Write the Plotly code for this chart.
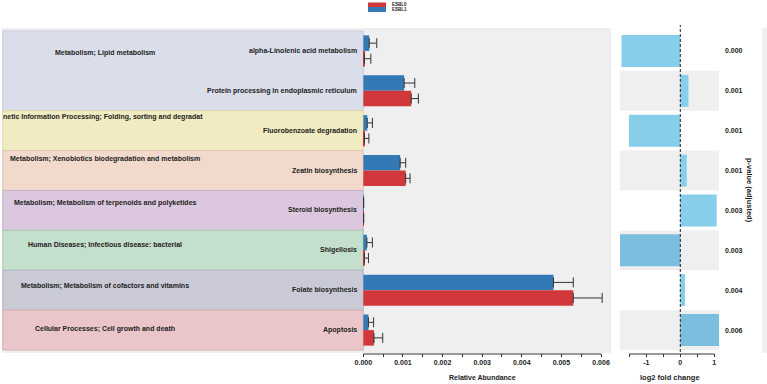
import plotly.graph_objects as go

# ---------------- data ----------------
pathways = [
    "alpha-Linolenic acid metabolism",
    "Protein processing in endoplasmic reticulum",
    "Fluorobenzoate degradation",
    "Zeatin biosynthesis",
    "Steroid biosynthesis",
    "Shigellosis",
    "Folate biosynthesis",
    "Apoptosis",
]
esbl1_mean = [0.00015, 0.00103, 0.00010, 0.00093, 0.000008, 0.00009, 0.00480, 0.00013]
esbl1_err = [0.00019, 0.00027, 0.00013, 0.00014, 0.0, 0.00014, 0.00050, 0.00013]
esbl0_mean = [0.00003, 0.00121, 0.00003, 0.00107, 0.000008, 0.00003, 0.00530, 0.00027]
esbl0_err = [0.00016, 0.00018, 0.00011, 0.00011, 0.0, 0.00010, 0.00073, 0.00022]
log2fc = [-1.73, 0.24, -1.51, 0.19, 1.07, -1.80, 0.14, 1.20]
pvalues = ["0.000", "0.001", "0.001", "0.001", "0.003", "0.003", "0.004", "0.006"]
categories = [
    "Metabolism; Lipid metabolism",
    "netic Information Processing; Folding, sorting and degradat",
    "Metabolism; Xenobiotics biodegradation and metabolism",
    "Metabolism; Metabolism of terpenoids and polyketides",
    "Human Diseases; Infectious disease: bacterial",
    "Metabolism; Metabolism of cofactors and vitamins",
    "Cellular Processes; Cell growth and death",
]
category_first_row = [0, 2, 3, 4, 5, 6, 7]
category_last_row = [1, 2, 3, 4, 5, 6, 7]
abund_ticks = [0.0, 0.001, 0.002, 0.003, 0.004, 0.005, 0.006]
fc_ticks = [-1, 0, 1]

# ---------------- styles / layout helpers ----------------
W, H = 767, 384
FONT = "Liberation Sans, Arial, sans-serif"
cat_fill = ["#DADEEA", "#F0EBC0", "#F1DACC", "#DCC8DE", "#C5DFCD", "#CACAD7", "#EAC6CA"]
cat_line = ["#C9CCDA", "#E2DAA8", "#E3C4B4", "#C8B0CC", "#A9C9B3", "#B6B6C6", "#D9AEB3"]
cat_label_y = [0.05, 1.655, 2.71, 3.81, 4.86, 5.89, 6.97]
fc_colors = ["#87CEEB", "#87CEEB", "#87CEEB", "#87CEEB", "#87CEEB", "#7BBFDE", "#87CEEB", "#7BBFDE"]
BLUE = "#3379B5"
RED = "#D1383B"

def px(xp):
    return xp / W

def py(yp):
    return (H - yp) / H

x_left, x_right = -0.00912, 0.006252
fc_left, fc_right = -1.774, 1.138
y_range = [7.575, -0.575]

fig = go.Figure()

fig.add_trace(go.Bar(
    name="ESBL1", y=pathways, x=esbl1_mean, orientation="h",
    marker=dict(color=BLUE, line=dict(width=0)),
    error_x=dict(type="data", array=esbl1_err, arrayminus=[0] * len(pathways),
                 symmetric=False, color="#333333", thickness=1, width=5),
    xaxis="x", yaxis="y", showlegend=False,
))
fig.add_trace(go.Bar(
    name="ESBL0", y=pathways, x=esbl0_mean, orientation="h",
    marker=dict(color=RED, line=dict(width=0)),
    error_x=dict(type="data", array=esbl0_err, arrayminus=[0] * len(pathways),
                 symmetric=False, color="#333333", thickness=1, width=5),
    xaxis="x", yaxis="y", showlegend=False,
))
fig.add_trace(go.Bar(
    name="log2FC", y=pathways, x=log2fc, orientation="h", width=0.8,
    marker=dict(color=fc_colors, line=dict(width=0)),
    xaxis="x2", yaxis="y", showlegend=False,
))

shapes = []
# main panel background
shapes.append(dict(type="rect", xref="paper", yref="paper", x0=px(2), x1=px(611),
                   y0=py(353), y1=py(28), fillcolor="#EFEFEF", line=dict(width=0), layer="below"))
# right strip
shapes.append(dict(type="rect", xref="paper", yref="paper", x0=px(762), x1=1,
                   y0=py(353), y1=py(28), fillcolor="#EFEFEF", line=dict(width=0), layer="below"))
# category boxes
for i in range(len(categories)):
    shapes.append(dict(type="rect", xref="x", yref="y", x0=x_left + 0.00002, x1=0,
                       y0=category_first_row[i] - 0.5, y1=category_last_row[i] + 0.5,
                       fillcolor=cat_fill[i], line=dict(width=1, color=cat_line[i]), layer="below"))
# alternating rows in fold-change panel
for i in range(len(pathways)):
    if i % 2 == 1:
        shapes.append(dict(type="rect", xref="x2 domain", yref="y", x0=0, x1=1,
                           y0=i - 0.5, y1=i + 0.5, fillcolor="#EFEFEF",
                           line=dict(width=0), layer="below"))
# zero line
shapes.append(dict(type="line", xref="x2", yref="paper", x0=0, x1=0, y0=py(352), y1=py(25),
                   line=dict(color="#222222", width=1, dash="3px,2px")))
# axis lines
shapes.append(dict(type="line", xref="x", yref="paper", x0=abund_ticks[0], x1=abund_ticks[-1],
                   y0=py(354), y1=py(354), line=dict(color="#333333", width=1)))
shapes.append(dict(type="line", xref="x2", yref="paper", x0=-1.5, x1=1,
                   y0=py(354), y1=py(354), line=dict(color="#333333", width=1)))
# legend patches
shapes.append(dict(type="rect", xref="paper", yref="paper", x0=px(368), x1=px(386),
                   y0=py(7), y1=py(2.5), fillcolor=RED, line=dict(width=0)))
shapes.append(dict(type="rect", xref="paper", yref="paper", x0=px(368), x1=px(386),
                   y0=py(12), y1=py(7), fillcolor=BLUE, line=dict(width=0)))

bold = dict(family=FONT, color="#222222", weight="bold")
ann = []
for i, c in enumerate(categories):
    if c.startswith("netic"):
        ann.append(dict(text=c, xref="paper", yref="y", x=px(1), y=cat_label_y[i],
                        xanchor="left", yanchor="middle", showarrow=False,
                        font=dict(size=7, **bold)))
    else:
        ann.append(dict(text=c, xref="paper", yref="y", x=px(105), y=cat_label_y[i],
                        xanchor="center", yanchor="middle", showarrow=False,
                        font=dict(size=7, **bold)))
for i, p in enumerate(pathways):
    ann.append(dict(text=p, xref="x", yref="y", x=0, y=i, xanchor="right", yanchor="middle",
                    xshift=-4, showarrow=False, font=dict(size=7, **bold)))
for i, p in enumerate(pvalues):
    ann.append(dict(text=p, xref="paper", yref="y", x=px(734), y=i, xanchor="center",
                    yanchor="middle", showarrow=False, font=dict(size=7, **bold)))
ann.append(dict(text="Relative Abundance", xref="paper", yref="paper", x=px(482), y=py(377),
                xanchor="center", yanchor="middle", showarrow=False, font=dict(size=7, **bold)))
ann.append(dict(text="log2 fold change", xref="paper", yref="paper", x=px(670), y=py(377),
                xanchor="center", yanchor="middle", showarrow=False, font=dict(size=7.5, **bold)))
ann.append(dict(text="p-value (adjusted)", xref="paper", yref="paper", x=px(750), y=py(190),
                xanchor="center", yanchor="middle", textangle=90, showarrow=False,
                font=dict(size=7.5, **bold)))
ann.append(dict(text="ESBL0", xref="paper", yref="paper", x=px(390), y=py(4.8),
                xanchor="left", yanchor="middle", showarrow=False, font=dict(size=4.5, **bold)))
ann.append(dict(text="ESBL1", xref="paper", yref="paper", x=px(390), y=py(9.6),
                xanchor="left", yanchor="middle", showarrow=False, font=dict(size=4.5, **bold)))

abund_minor = [0.0005, 0.0015, 0.0025, 0.0035, 0.0045, 0.0055]
fc_minor = [-1.5, -0.5, 0.5]

fig.update_layout(
    width=W, height=H,
    margin=dict(l=0, r=0, t=0, b=0),
    paper_bgcolor="white", plot_bgcolor="rgba(0,0,0,0)",
    barmode="group", bargap=0.22, bargroupgap=0,
    showlegend=False,
    font=dict(family=FONT, size=7, color="#222222"),
    shapes=shapes, annotations=ann,
    xaxis=dict(domain=[px(2), px(611)], range=[x_left, x_right], showgrid=False,
               zeroline=False, showline=False,
               tickvals=abund_ticks + abund_minor,
               ticktext=[f"{v:.3f}" for v in abund_ticks] + [""] * len(abund_minor),
               ticks="outside", ticklen=3, tickcolor="#333333", tickwidth=1,
               tickfont=dict(size=7, **bold), anchor="y"),
    xaxis2=dict(domain=[px(620), px(719)], range=[fc_left, fc_right], showgrid=False,
                zeroline=False, showline=False,
                tickvals=fc_ticks + fc_minor,
                ticktext=[str(v) for v in fc_ticks] + [""] * len(fc_minor),
                ticks="outside", ticklen=3, tickcolor="#333333", tickwidth=1,
                tickfont=dict(size=7, **bold), anchor="y"),
    yaxis=dict(domain=[py(353), py(28)], range=y_range, type="category",
               categoryorder="array", categoryarray=pathways,
               showticklabels=False, showgrid=False, zeroline=False, showline=False,
               ticks=""),
)

fig.write_html(
    "out.html",
    config={"displayModeBar": False},
    post_script="document.body.style.margin='0';document.body.style.padding='0';",
)
